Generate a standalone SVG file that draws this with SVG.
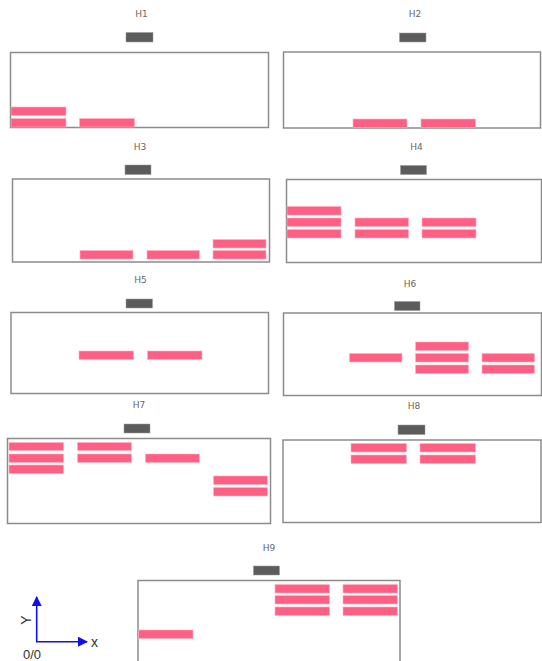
<svg xmlns="http://www.w3.org/2000/svg" width="542" height="661" viewBox="0 0 542 661">
<defs>
<style>
.frame{fill:#fff;stroke:#8c8c8c;stroke-width:1.5}
.bar{fill:#ff5f82;stroke:#ffb3c3;stroke-width:0.6}
.head{fill:#5c5c5c;stroke:#9a9a9a;stroke-width:0.5}
.lbl{font-family:"DejaVu Sans","Liberation Sans",sans-serif;font-size:9px;fill:#666;text-anchor:middle}
.axis{stroke:#1010ee;stroke-width:1.6;fill:none}
.axt{font-family:"Liberation Sans",Arial,sans-serif;font-size:14px;fill:#333}
</style>
<marker id="arr" viewBox="0 0 10 10" refX="9" refY="5" markerWidth="10" markerHeight="10" markerUnits="userSpaceOnUse" orient="auto"><path d="M0,0 L10,5 L0,10 Z" fill="#1010ee"/></marker>
</defs>
<rect width="542" height="661" fill="#fff"/>

<g id="H1">
<text class="lbl" x="141.5" y="17">H1</text>
<rect class="head" x="126" y="32.5" width="27" height="9.5"/>
<rect class="frame" x="10.5" y="52.5" width="258" height="75"/>
<rect class="bar" x="11" y="107" width="55" height="8.5"/>
<rect class="bar" x="11" y="118.5" width="55" height="8.5"/>
<rect class="bar" x="79.5" y="118.5" width="55" height="8.5"/>
</g>

<g id="H2">
<text class="lbl" x="415" y="17">H2</text>
<rect class="head" x="399.5" y="33" width="26.5" height="9"/>
<rect class="frame" x="283.5" y="52" width="257" height="76"/>
<rect class="bar" x="353" y="119" width="54" height="8.5"/>
<rect class="bar" x="421" y="119" width="54.5" height="8.5"/>
</g>

<g id="H3">
<text class="lbl" x="140" y="150">H3</text>
<rect class="head" x="125" y="165" width="26" height="9.5"/>
<rect class="frame" x="12.5" y="179" width="257" height="83"/>
<rect class="bar" x="80" y="250.5" width="53" height="8.5"/>
<rect class="bar" x="147" y="250.5" width="52.5" height="8.5"/>
<rect class="bar" x="213" y="239.5" width="53" height="8.5"/>
<rect class="bar" x="213" y="250.5" width="53" height="8.5"/>
</g>

<g id="H4">
<text class="lbl" x="416.5" y="150">H4</text>
<rect class="head" x="400.5" y="165.5" width="26" height="9"/>
<rect class="frame" x="286.5" y="179.5" width="255" height="83"/>
<rect class="bar" x="287" y="206.5" width="54" height="8.5"/>
<rect class="bar" x="287" y="218" width="54" height="8.5"/>
<rect class="bar" x="287" y="229.5" width="54" height="8.5"/>
<rect class="bar" x="355" y="218" width="53.5" height="8.5"/>
<rect class="bar" x="355" y="229.5" width="53.5" height="8.5"/>
<rect class="bar" x="422" y="218" width="54" height="8.5"/>
<rect class="bar" x="422" y="229.5" width="54" height="8.5"/>
</g>

<g id="H5">
<text class="lbl" x="140.5" y="283">H5</text>
<rect class="head" x="126" y="299" width="26.5" height="9"/>
<rect class="frame" x="11" y="312.5" width="257.5" height="81"/>
<rect class="bar" x="79" y="351" width="54.5" height="8.5"/>
<rect class="bar" x="147.5" y="351" width="54.5" height="8.5"/>
</g>

<g id="H6">
<text class="lbl" x="410" y="286.5">H6</text>
<rect class="head" x="394.5" y="301.5" width="25.5" height="9"/>
<rect class="frame" x="283.5" y="313" width="258" height="82.5"/>
<rect class="bar" x="349.5" y="353.5" width="52.5" height="8.5"/>
<rect class="bar" x="415.5" y="342" width="53" height="8.5"/>
<rect class="bar" x="415.5" y="353.5" width="53" height="8.5"/>
<rect class="bar" x="415.5" y="365" width="53" height="8.5"/>
<rect class="bar" x="482" y="353.5" width="52.5" height="8.5"/>
<rect class="bar" x="482" y="365" width="52.5" height="8.5"/>
</g>

<g id="H7">
<text class="lbl" x="139" y="408">H7</text>
<rect class="head" x="124" y="424" width="26" height="9"/>
<rect class="frame" x="7.5" y="438.5" width="263" height="85"/>
<rect class="bar" x="9" y="442.5" width="54.5" height="8"/>
<rect class="bar" x="9" y="454" width="54.5" height="8.5"/>
<rect class="bar" x="9" y="465" width="54.5" height="8.5"/>
<rect class="bar" x="77.5" y="442.5" width="54" height="8"/>
<rect class="bar" x="77.5" y="454" width="54" height="8.5"/>
<rect class="bar" x="145.5" y="454" width="54" height="8.5"/>
<rect class="bar" x="213.5" y="476" width="54" height="8.5"/>
<rect class="bar" x="213.5" y="487.5" width="54" height="8.5"/>
</g>

<g id="H8">
<text class="lbl" x="414" y="409">H8</text>
<rect class="head" x="398" y="425" width="27" height="9.5"/>
<rect class="frame" x="283" y="440" width="258" height="82.5"/>
<rect class="bar" x="351" y="443.5" width="55.5" height="8.5"/>
<rect class="bar" x="351" y="455" width="55.5" height="8.5"/>
<rect class="bar" x="420" y="443.5" width="55.5" height="8.5"/>
<rect class="bar" x="420" y="455" width="55.5" height="8.5"/>
</g>

<g id="H9">
<text class="lbl" x="269" y="550.5">H9</text>
<rect class="head" x="253.5" y="566" width="26" height="9"/>
<rect class="frame" x="138" y="580.5" width="262" height="90"/>
<rect class="bar" x="138.5" y="630" width="54.5" height="8.5"/>
<rect class="bar" x="275" y="584.5" width="54.5" height="8.5"/>
<rect class="bar" x="275" y="595.5" width="54.5" height="8.5"/>
<rect class="bar" x="275" y="607" width="54.5" height="8.5"/>
<rect class="bar" x="343" y="584.5" width="54.5" height="8.5"/>
<rect class="bar" x="343" y="595.5" width="54.5" height="8.5"/>
<rect class="bar" x="343" y="607" width="54.5" height="8.5"/>
</g>

<g id="axes">
<line class="axis" x1="36.7" y1="642" x2="36.7" y2="597" marker-end="url(#arr)"/>
<line class="axis" x1="36" y1="641.7" x2="87" y2="641.7" marker-end="url(#arr)"/>
<text class="axt" x="0" y="0" transform="translate(31,620) rotate(-90)" text-anchor="middle">Y</text>
<text class="axt" x="91" y="646.5">x</text>
<text class="axt" x="32" y="659" text-anchor="middle" style="font-size:13px">0/0</text>
</g>
</svg>
